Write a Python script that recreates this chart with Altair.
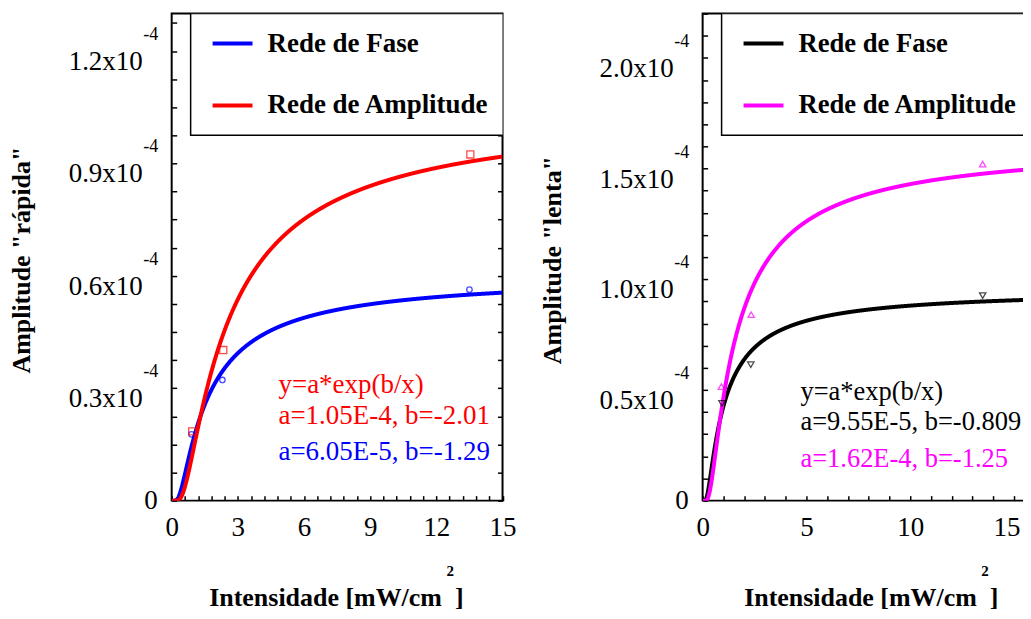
import altair as alt
import pandas as pd

FONT = "Liberation Serif"

# ---------------- data: left panel (Amplitude "rápida") ----------------
L_series = ["Rede de Fase", "Rede de Amplitude"]
L_colors = ["#0000ff", "#ff0000"]
L_a = [6.05e-5, 1.05e-4]
L_b = [-1.29, -2.01]
L_fase_x = [0.90, 2.30, 13.50]
L_fase_y = [1.77e-5, 3.22e-5, 5.63e-5]
L_amp_x = [0.93, 2.34, 13.54]
L_amp_y = [1.85e-5, 4.02e-5, 9.24e-5]
L_ytick_vals = [0.3e-4, 0.6e-4, 0.9e-4, 1.2e-4]
L_ytick_text = ["0.3x10", "0.6x10", "0.9x10", "1.2x10"]
L_xtick_vals = [0, 3, 6, 9, 12, 15]
L_xminor = [round(i * 0.6, 2) for i in range(26)]
L_yminor = [round(i * 0.075e-4, 8) for i in range(18)]
L_ann = ["y=a*exp(b/x)", "a=1.05E-4, b=-2.01", "a=6.05E-5, b=-1.29"]
L_ann_colors = ["#ff0000", "#ff0000", "#0000ff"]

# ---------------- data: right panel (Amplitude "lenta") ----------------
R_series = ["Rede de Fase", "Rede de Amplitude"]
R_colors = ["#000000", "#ff00ff"]
R_a = [9.55e-5, 1.62e-4]
R_b = [-0.809, -1.25]
R_fase_x = [0.93, 2.32, 13.49]
R_fase_y = [4.39e-5, 6.14e-5, 9.26e-5]
R_amp_x = [0.90, 2.34, 13.49]
R_amp_y = [5.15e-5, 8.40e-5, 1.52e-4]
R_ytick_vals = [0.5e-4, 1.0e-4, 1.5e-4, 2.0e-4]
R_ytick_text = ["0.5x10", "1.0x10", "1.5x10", "2.0x10"]
R_xtick_vals = [0, 5, 10, 15]
R_xminor = list(range(16))
R_yminor = [round(i * 0.1e-4, 8) for i in range(23)]
R_ann = ["y=a*exp(b/x)", "a=9.55E-5, b=-0.809", "a=1.62E-4, b=-1.25"]
R_ann_colors = ["#000000", "#000000", "#ff00ff"]

H = 488
DUMMY = pd.DataFrame({"d": [0]})


def panel(W, xmax, ymax, colors, a_vals, b_vals, pts, shapes, sizes,
          ytick_vals, ytick_text, xtick_vals, xminor, yminor,
          ytitle, series, ann, ann_colors, ann_x, ann_y, ann_size, leg_size,
          sup_x, edge_label=None):
    xs = alt.Scale(domain=[0, xmax], nice=False, zero=False)
    ys = alt.Scale(domain=[0, ymax], nice=False, zero=False)
    layers = []

    if edge_label is None:
        lab_align = "center"
        lab_offset = 0
    else:
        test = f"datum.value == {edge_label}"
        lab_align = {"condition": {"test": test, "value": "right"}, "value": "center"}
        lab_offset = {"condition": {"test": test, "value": 6}, "value": 0}

    # fitted curves y = a*exp(b/x)
    for i in range(2):
        if i == 0:
            xaxis = alt.Axis(values=xtick_vals, labelFont=FONT, labelFontSize=27,
                             labelColor="black", ticks=False, tickSize=0, domain=False,
                             grid=False, title=None, labelPadding=14, labelFlush=False,
                             labelAlign=lab_align, labelOffset=lab_offset)
            yaxis = alt.Axis(orient="right", offset=-W, values=yminor, labels=False,
                             domain=False, grid=False, tickSize=5, tickWidth=1.5,
                             tickColor="black", title=None)
        else:
            xaxis = alt.Axis(orient="top", offset=-H, values=xminor, labels=False,
                             domain=False, grid=False, tickSize=5, tickWidth=1.5,
                             tickColor="black", title=None)
            yaxis = alt.Axis(orient="left", offset=-W, values=yminor, labels=False,
                             domain=False, grid=False, tickSize=5, tickWidth=1.5,
                             tickColor="black", title=None)
        curve = (
            alt.Chart(alt.sequence(0.01, xmax, 0.01, as_="x"))
            .transform_calculate(y=f"{a_vals[i]}*exp({b_vals[i]}/datum.x)")
            .mark_line(strokeWidth=4, clip=True, color=colors[i])
            .encode(x=alt.X("x:Q", scale=xs, axis=xaxis),
                    y=alt.Y("y:Q", scale=ys, axis=yaxis))
        )
        layers.append(curve)

    # measured points
    for i in range(2):
        df = pd.DataFrame({"x": pts[i][0], "y": pts[i][1]})
        layers.append(
            alt.Chart(df)
            .mark_point(shape=shapes[i], filled=False, size=sizes[i],
                        strokeWidth=1.3, color=colors[i])
            .encode(x=alt.X("x:Q", scale=xs, axis=None),
                    y=alt.Y("y:Q", scale=ys, axis=None))
        )

    # y tick labels "0.3x10" with superscript "-4"
    tdf = pd.DataFrame({"v": ytick_vals, "t": ytick_text})
    layers.append(
        alt.Chart(tdf)
        .mark_text(align="right", baseline="middle", dy=11, font=FONT,
                   fontSize=27, color="black")
        .encode(x=alt.value(-29), y=alt.Y("v:Q", scale=ys, axis=None), text="t:N")
    )
    layers.append(
        alt.Chart(tdf)
        .mark_text(align="center", baseline="middle", dy=-16, font=FONT,
                   fontSize=18, color="black")
        .encode(x=alt.value(-21), y=alt.Y("v:Q", scale=ys, axis=None),
                text=alt.value("-4"))
    )
    layers.append(
        alt.Chart(DUMMY)
        .mark_text(align="right", baseline="middle", font=FONT, fontSize=27, color="black")
        .encode(x=alt.value(-14), y=alt.value(H), text=alt.value("0"))
    )

    # legend box (kept inside the plot area)
    layers.append(
        alt.Chart(DUMMY)
        .mark_rect(fill="white", stroke="black", strokeWidth=1.5, clip=True)
        .encode(x=alt.value(19), x2=alt.value(W + 2), y=alt.value(0), y2=alt.value(122))
    )
    for i, ly in enumerate([30, 92]):
        layers.append(
            alt.Chart(DUMMY)
            .mark_rule(strokeWidth=4, color=colors[i], clip=True)
            .encode(x=alt.value(41), x2=alt.value(81), y=alt.value(ly))
        )
        layers.append(
            alt.Chart(DUMMY)
            .mark_text(align="left", baseline="middle", font=FONT, fontSize=leg_size,
                       fontWeight="bold", color="black", clip=True)
            .encode(x=alt.value(96), y=alt.value(ly), text=alt.value(series[i]))
        )

    # fit annotations
    for i in range(3):
        layers.append(
            alt.Chart(DUMMY)
            .mark_text(align="left", baseline="middle", font=FONT, fontSize=ann_size,
                       color=ann_colors[i], clip=True)
            .encode(x=alt.value(ann_x), y=alt.value(ann_y[i]), text=alt.value(ann[i]))
        )

    # axis titles
    layers.append(
        alt.Chart(DUMMY)
        .mark_text(angle=270, align="center", baseline="middle", font=FONT,
                   fontSize=26, fontWeight="bold", color="black")
        .encode(x=alt.value(-150), y=alt.value(247), text=alt.value(ytitle))
    )
    layers.append(
        alt.Chart(DUMMY)
        .mark_text(align="center", baseline="alphabetic", font=FONT, fontSize=26,
                   fontWeight="bold", color="black")
        .encode(x=alt.value(sup_x - 114), y=alt.value(594),
                text=alt.value("Intensidade [mW/cm\u00a0\u00a0]"))
    )
    layers.append(
        alt.Chart(DUMMY)
        .mark_text(align="center", baseline="middle", font=FONT, fontSize=15,
                   fontWeight="bold", color="black")
        .encode(x=alt.value(sup_x), y=alt.value(559), text=alt.value("2"))
    )

    return (
        alt.layer(*layers)
        .resolve_axis(x="independent", y="independent")
        .properties(width=W, height=H)
    )


W1 = 331.5
W2 = 327.5
left = panel(W1, 15, 1.3e-4, L_colors, L_a, L_b,
             [(L_fase_x, L_fase_y), (L_amp_x, L_amp_y)],
             ["circle", "square"], [30, 50],
             L_ytick_vals, L_ytick_text, L_xtick_vals, L_xminor, L_yminor,
             'Amplitude "rápida"', L_series, L_ann, L_ann_colors, 107, [372, 403, 439],
             27, 27, 279)
right = panel(W2, W2 / 20.8, 2.2e-4, R_colors, R_a, R_b,
              [(R_fase_x, R_fase_y), (R_amp_x, R_amp_y)],
              ["triangle-down", "triangle-up"], [40, 40],
              R_ytick_vals, R_ytick_text, R_xtick_vals, R_xminor, R_yminor,
              'Amplitude "lenta"', R_series, R_ann, R_ann_colors, 98, [379, 409, 446],
              26.5, 26.7, 283, edge_label=15)

chart = (
    alt.hconcat(left, right, spacing=200, bounds="flush")
    .configure_view(stroke="black", strokeWidth=2)
    .properties(padding={"left": 0, "top": 3, "right": -9, "bottom": 0})
)

chart.save("out.html", embed_options={"renderer": "svg", "actions": False})
